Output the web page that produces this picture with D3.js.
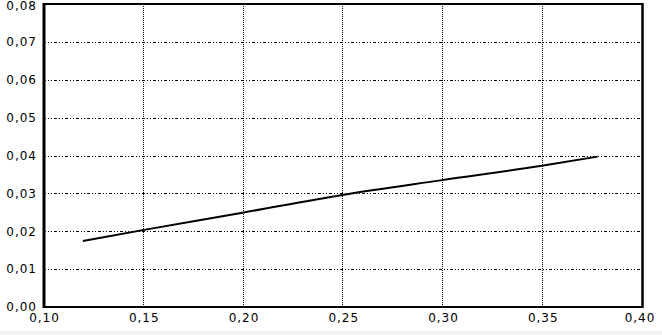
<!DOCTYPE html>
<html>
<head>
<meta charset="utf-8">
<script src="https://cdn.jsdelivr.net/npm/d3@7/dist/d3.min.js"></script>
<style>
  html, body { margin: 0; padding: 0; background: #f0f0f0; }
  svg { display: block; background: #ffffff; }
  text { font-family: "DejaVu Sans", sans-serif; font-size: 12px; letter-spacing: 1px; fill: #000; }
</style>
</head>
<body>
<script>
// values
var xValues = [0.12, 0.15, 0.20, 0.25, 0.30, 0.35, 0.378];
var yValues = [0.0174, 0.0203, 0.0249, 0.0296, 0.0335, 0.0373, 0.0397];

var xTicks = [0.10, 0.15, 0.20, 0.25, 0.30, 0.35, 0.40];
var yTicks = [0.00, 0.01, 0.02, 0.03, 0.04, 0.05, 0.06, 0.07, 0.08];

var width = 662;
var height = 331;
var margin = {top: 4, right: 20, bottom: 24, left: 43};

var fmt = function(d) { return d3.format(".2f")(d).replace(".", ","); };

var x = d3.scaleLinear()
  .domain([0.10, 0.40])
  .range([margin.left, width - margin.right - 0.5]);

var y = d3.scaleLinear()
  .domain([0.00, 0.08])
  .range([height - margin.bottom, margin.top]);

var svg = d3.select("body")
  .append("svg")
  .attr("width", width)
  .attr("height", height);

// horizontal grid
svg.append("g")
  .selectAll("line")
  .data(yTicks.slice(1, -1))
  .enter().append("line")
  .attr("x1", x(0.10))
  .attr("x2", x(0.40))
  .attr("y1", function(d) { return Math.round(y(d)) + 0.5; })
  .attr("y2", function(d) { return Math.round(y(d)) + 0.5; })
  .attr("stroke", "#000")
  .attr("stroke-width", 1)
  .attr("stroke-dasharray", "3,2,1,2,1,2");

// vertical grid
svg.append("g")
  .selectAll("line")
  .data(xTicks.slice(1, -1))
  .enter().append("line")
  .attr("x1", function(d) { return Math.round(x(d)) + 0.5; })
  .attr("x2", function(d) { return Math.round(x(d)) + 0.5; })
  .attr("y1", y(0.08))
  .attr("y2", y(0))
  .attr("stroke", "#000")
  .attr("stroke-width", 1)
  .attr("stroke-dasharray", "1,1");

// y axis labels
var yAxis = d3.axisLeft(y)
  .tickValues(yTicks)
  .tickFormat(fmt)
  .tickSize(0)
  .tickPadding(6);

svg.append("g")
  .attr("transform", "translate(" + margin.left + ",0)")
  .call(yAxis)
  .call(function(g) { g.select(".domain").remove(); })
  .selectAll("text")
  .attr("dy", function(d) { return d === 0.08 ? "0.45em" : "0.32em"; });

// x axis labels
var xAxis = d3.axisBottom(x)
  .tickValues(xTicks)
  .tickFormat(fmt)
  .tickSize(0)
  .tickPadding(6);

svg.append("g")
  .attr("transform", "translate(0," + y(0) + ")")
  .call(xAxis)
  .call(function(g) { g.select(".domain").remove(); })
  .selectAll("text")
  .attr("dx", function(d) { return d === 0.40 ? "-2px" : "1px"; });

d3.selectAll(".tick text").attr("font-family", null).attr("font-size", null);

// frame
svg.append("line")
  .attr("x1", x(0.10) + 1).attr("x2", x(0.10) + 1)
  .attr("y1", y(0.08) - 1).attr("y2", y(0) + 1)
  .attr("stroke", "#000").attr("stroke-width", 3);
svg.append("line")
  .attr("x1", x(0.10)).attr("x2", x(0.40) + 1)
  .attr("y1", y(0.08)).attr("y2", y(0.08))
  .attr("stroke", "#000").attr("stroke-width", 2);
svg.append("line")
  .attr("x1", x(0.10)).attr("x2", x(0.40) + 1)
  .attr("y1", y(0)).attr("y2", y(0))
  .attr("stroke", "#000").attr("stroke-width", 2);
svg.append("line")
  .attr("x1", x(0.40) + 1).attr("x2", x(0.40) + 1)
  .attr("y1", y(0.08) - 1).attr("y2", y(0) + 1)
  .attr("stroke", "#000").attr("stroke-width", 2.5);

// curve
var line = d3.line()
  .x(function(d, i) { return x(xValues[i]); })
  .y(function(d) { return y(d); })
  .curve(d3.curveMonotoneX);

svg.append("path")
  .datum(yValues)
  .attr("d", line)
  .attr("fill", "none")
  .attr("stroke", "#000")
  .attr("stroke-width", 2);
</script>
</body>
</html>
